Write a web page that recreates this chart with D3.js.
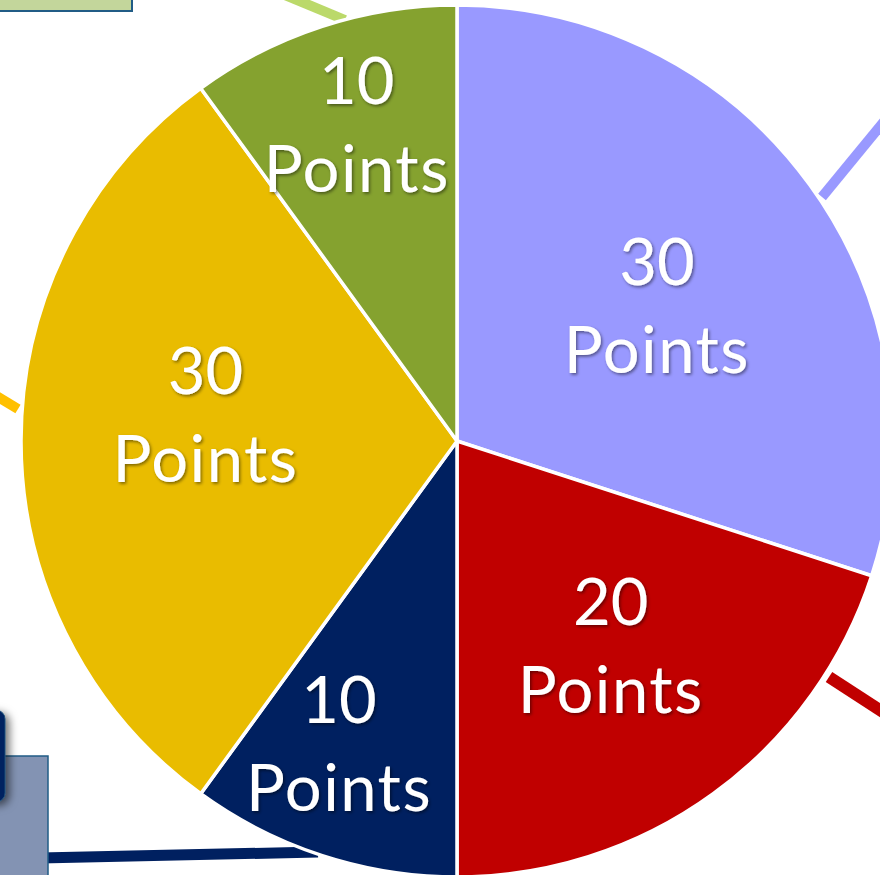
<!DOCTYPE html>
<html>
<head>
<meta charset="utf-8">
<script src="https://cdn.jsdelivr.net/npm/d3@7"></script>
<style>
  html, body { margin: 0; padding: 0; background: #fff; overflow: hidden; }
  svg { display: block; }
</style>
</head>
<body>
<svg id="pie-chart"></svg>
<script>
// slice data, clockwise from 12 o'clock
var values = [30, 20, 10, 30, 10];
var labels = ["30 Points", "20 Points", "10 Points", "30 Points", "10 Points"];
var colors = ["#9999FF", "#C00000", "#002060", "#E9BC00", "#85A22F"];

// label placement (fraction of radius, angle nudge in degrees)
var labelRadius = [0.553, 0.587, 0.745, 0.58, 0.76];
var labelNudge = [2, -0.9, 3.3, 5.9, 0.4];

var svgWidth = 880, svgHeight = 875;
var cx = 457, cy = 441, radius = 436;

var svg = d3.select("#pie-chart")
    .attr("width", svgWidth)
    .attr("height", svgHeight);

var defs = svg.append("defs");

var textShadow = defs.append("filter")
    .attr("id", "text-shadow")
    .attr("x", "-20%").attr("y", "-20%")
    .attr("width", "140%").attr("height", "140%");
textShadow.append("feDropShadow")
    .attr("dx", 1.5).attr("dy", 1.8)
    .attr("stdDeviation", 1.4)
    .attr("flood-color", "#000")
    .attr("flood-opacity", 0.45);

var boxShadow = defs.append("filter")
    .attr("id", "box-shadow")
    .attr("x", "-50%").attr("y", "-50%")
    .attr("width", "200%").attr("height", "200%");
boxShadow.append("feDropShadow")
    .attr("dx", 4).attr("dy", 3)
    .attr("stdDeviation", 4)
    .attr("flood-color", "#000")
    .attr("flood-opacity", 0.55);

// surrounding diagram bits (connectors and boxes cut off by the frame)
var deco = svg.append("g").attr("class", "deco");

deco.append("rect")
    .attr("x", -3).attr("y", -25)
    .attr("width", 135).attr("height", 36)
    .attr("fill", "#C3D69B")
    .attr("stroke", "#215C86")
    .attr("stroke-width", 2);

var connectors = [
    { x1: 268, y1: -12, x2: 345, y2: 20, color: "#BBD96A", w: 10 },
    { x1: 822, y1: 197, x2: 900, y2: 102, color: "#9999FF", w: 10 },
    { x1: 829, y1: 677, x2: 900, y2: 723, color: "#C00000", w: 12 },
    { x1: -10, y1: 392, x2: 18, y2: 409, color: "#FFC000", w: 10 },
    { x1: 40, y1: 858, x2: 318, y2: 852, color: "#002060", w: 11 }
];

deco.selectAll("line.connector")
    .data(connectors)
    .enter()
    .append("line")
    .attr("class", "connector")
    .attr("x1", function(d) { return d.x1; })
    .attr("y1", function(d) { return d.y1; })
    .attr("x2", function(d) { return d.x2; })
    .attr("y2", function(d) { return d.y2; })
    .attr("stroke", function(d) { return d.color; })
    .attr("stroke-width", function(d) { return d.w; });

deco.append("rect")
    .attr("x", -3).attr("y", 756)
    .attr("width", 51).attr("height", 130)
    .attr("fill", "#8393B3")
    .attr("stroke", "#215C86")
    .attr("stroke-width", 1.5);

deco.append("rect")
    .attr("x", -30).attr("y", 710)
    .attr("width", 35).attr("height", 92)
    .attr("rx", 9)
    .attr("fill", "#002060")
    .attr("stroke", "#1F4E79")
    .attr("stroke-width", 1)
    .attr("filter", "url(#box-shadow)");

// pie
var pie = d3.pie()
    .sort(null)
    .value(function(d) { return d; });

var arc = d3.arc()
    .innerRadius(0)
    .outerRadius(radius);

var arcs = pie(values);

var g = svg.append("g")
    .attr("transform", "translate(" + cx + "," + cy + ")");

g.selectAll("path.slice")
    .data(arcs)
    .enter()
    .append("path")
    .attr("class", "slice")
    .attr("d", arc)
    .attr("fill", function(d, i) { return colors[i]; })
    .attr("stroke", "#fff")
    .attr("stroke-width", 3.5)
    .attr("stroke-linejoin", "round");

// labels
var lbl = g.selectAll("text.label")
    .data(arcs)
    .enter()
    .append("text")
    .attr("class", "label")
    .attr("transform", function(d, i) {
        var a = (d.startAngle + d.endAngle) / 2 + labelNudge[i] * Math.PI / 180;
        var r = labelRadius[i] * radius;
        return "translate(" + (r * Math.sin(a)) + "," + (-r * Math.cos(a)) + ")";
    })
    .attr("text-anchor", "middle")
    .attr("fill", "#fff")
    .attr("filter", "url(#text-shadow)")
    .style("font-family", "Lato, 'Open Sans', sans-serif")
    .style("font-size", "65px");

lbl.append("tspan")
    .attr("x", 0)
    .attr("y", -21)
    .text(function(d, i) { return labels[i].split(" ")[0]; });

lbl.append("tspan")
    .attr("x", 0)
    .attr("y", 67)
    .style("letter-spacing", "1.5px")
    .text(function(d, i) { return labels[i].split(" ")[1]; });
</script>
</body>
</html>
